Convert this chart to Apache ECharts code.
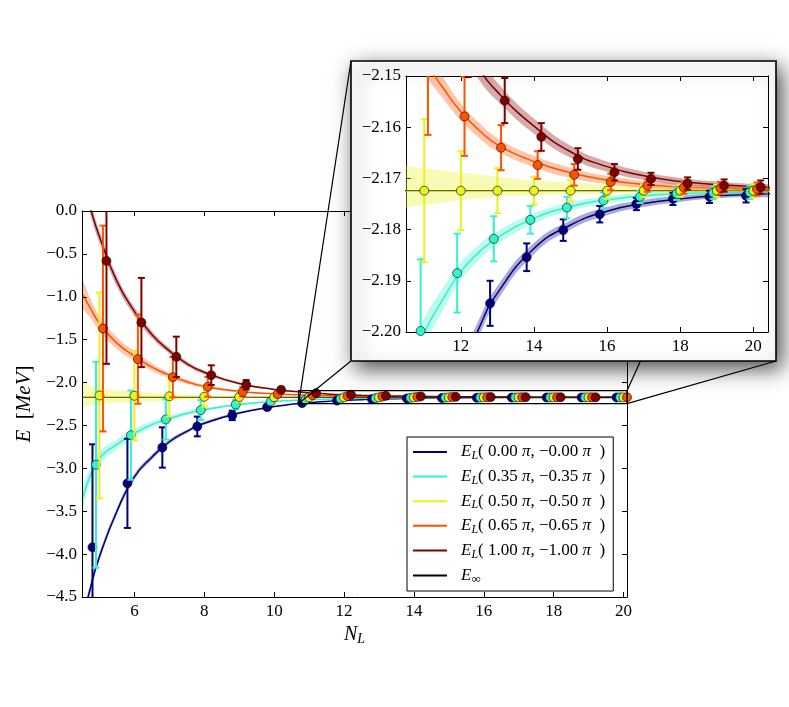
<!DOCTYPE html>
<html>
<head>
<meta charset="utf-8">
<script src="https://cdn.jsdelivr.net/npm/echarts@6/dist/echarts.min.js"></script>
<style>html,body{margin:0;padding:0;background:#fff}#c{width:789px;height:707px}</style>
</head>
<body>
<div id="c"></div>
<script>
// ---------------- data ----------------
const twist = ['0.00', '0.35', '0.50', '0.65', '1.00'];
const colors = ['#00007f', '#33f2cc', '#e8f21c', '#ff5200', '#800000'];
const xOffsets = [-0.2, -0.1, 0, 0.1, 0.2];
const NL = [5, 6, 7, 8, 9, 10, 11, 12, 13, 14, 15, 16, 17, 18, 19, 20];
const Einf = -2.1724;

const ptsBlue   = [-3.92, -3.175, -2.757, -2.512, -2.383, -2.287, -2.240, -2.210, -2.1944, -2.1854, -2.1801, -2.1770, -2.1750, -2.1740, -2.1736, -2.1734];
const ptsCyan   = [-2.958, -2.613, -2.430, -2.321, -2.256, -2.222, -2.1998, -2.1885, -2.1818, -2.1781, -2.1757, -2.1743, -2.1736, -2.1730, -2.1728, -2.1727];
const ptsYellow = [-2.150, -2.154, -2.160, -2.166, -2.169, -2.171, -2.1724, -2.1724, -2.1724, -2.1724, -2.1724, -2.1724, -2.1724, -2.1724, -2.1724, -2.1724];
const ptsOrange = [-1.370, -1.727, -1.937, -2.050, -2.108, -2.135, -2.1475, -2.1579, -2.1640, -2.1674, -2.1693, -2.1707, -2.1714, -2.1718, -2.1719, -2.1721];
const ptsRed    = [-0.582, -1.300, -1.700, -1.914, -2.026, -2.085, -2.124, -2.1425, -2.1548, -2.1619, -2.1662, -2.1688, -2.1701, -2.1710, -2.1714, -2.1717];
const errs      = [1.2, 0.52, 0.235, 0.115, 0.055, 0.027, 0.014, 0.0077, 0.0044, 0.0027, 0.0021, 0.0016, 0.0012, 0.0012, 0.0012, 0.0013];

const fitN = [4.5, 4.75, 5, 5.5, 6, 6.5, 7, 7.5, 8, 9, 10, 10.5, 11, 11.5, 12, 12.5, 13, 14, 15, 16, 17, 18, 19, 20, 20.5];
const fitBlue   = [-4.82, -4.38, -4.03, -3.50, -3.10, -2.87, -2.69, -2.57, -2.475, -2.355, -2.280, -2.254, -2.235, -2.2199, -2.2084, -2.1992, -2.1924, -2.1837, -2.1791, -2.1764, -2.1749, -2.1740, -2.1734, -2.1731, -2.1730];
const fitCyan   = [-3.37, -3.07, -2.88, -2.72, -2.59, -2.49, -2.42, -2.36, -2.317, -2.255, -2.220, -2.2087, -2.2001, -2.1937, -2.1882, -2.1844, -2.1816, -2.1778, -2.1755, -2.1742, -2.1734, -2.1730, -2.1727, -2.1726, -2.1725];
const fitYellow = [-2.168, -2.169, -2.170, -2.171, -2.1715, -2.172, -2.1722, -2.1723, -2.1724, -2.1724, -2.1724, -2.1724, -2.1724, -2.1724, -2.1724, -2.1724, -2.1724, -2.1724, -2.1724, -2.1724, -2.1724, -2.1724, -2.1724, -2.1724, -2.1724];
const fitOrange = [-0.96, -1.14, -1.31, -1.54, -1.69, -1.82, -1.915, -1.99, -2.045, -2.103, -2.132, -2.1404, -2.147, -2.1522, -2.157, -2.1606, -2.1634, -2.1667, -2.1689, -2.1703, -2.1712, -2.1717, -2.1719, -2.1721, -2.1722];
const fitRed    = [0.40, 0.02, -0.30, -0.82, -1.17, -1.44, -1.63, -1.78, -1.88, -2.01, -2.08, -2.1026, -2.119, -2.132, -2.1418, -2.1485, -2.1531, -2.1598, -2.1648, -2.1677, -2.1695, -2.1706, -2.1712, -2.1716, -2.1718];

const bandBlue   = [0.06, 0.05, 0.042, 0.037, 0.033, 0.029, 0.025, 0.02, 0.017, 0.011, 0.0065, 0.0048, 0.0036, 0.0028, 0.0022, 0.0017, 0.0014, 0.0011, 0.0009, 0.0008, 0.0007, 0.0006, 0.0005, 0.0005, 0.0005];
const bandCyan   = [0.11, 0.09, 0.075, 0.06, 0.05, 0.04, 0.032, 0.025, 0.019, 0.011, 0.006, 0.0042, 0.0029, 0.0022, 0.0018, 0.0015, 0.0013, 0.001, 0.0008, 0.0007, 0.0006, 0.0005, 0.0005, 0.0005, 0.0005];
const bandYellowUp   = [0.164, 0.13, 0.105, 0.08, 0.066, 0.05, 0.038, 0.029, 0.022, 0.013, 0.0075, 0.005, 0.0044, 0.0039, 0.0035, 0.0031, 0.0027, 0.002, 0.0016, 0.0012, 0.001, 0.0008, 0.0007, 0.0006, 0.0006];
const bandYellowDown = [0.109, 0.09, 0.078, 0.066, 0.058, 0.045, 0.034, 0.026, 0.02, 0.011, 0.0055, 0.0034, 0.0028, 0.0023, 0.0018, 0.0015, 0.0012, 0.0009, 0.0007, 0.0006, 0.0005, 0.0004, 0.0004, 0.0003, 0.0003];
const bandOrange = [0.14, 0.11, 0.085, 0.068, 0.055, 0.043, 0.033, 0.025, 0.018, 0.009, 0.0045, 0.0035, 0.0026, 0.0021, 0.0017, 0.0015, 0.0013, 0.0011, 0.001, 0.0008, 0.0007, 0.0006, 0.0005, 0.0005, 0.0005];
const bandRed    = [0.09, 0.08, 0.07, 0.06, 0.05, 0.042, 0.035, 0.028, 0.022, 0.013, 0.0075, 0.0058, 0.0045, 0.0036, 0.003, 0.0023, 0.0018, 0.0015, 0.0012, 0.001, 0.0008, 0.0007, 0.0006, 0.0005, 0.0005];

const xTicksMain  = [6, 8, 10, 12, 14, 16, 18, 20];
const yTicksMain  = [-4.5, -4.0, -3.5, -3.0, -2.5, -2.0, -1.5, -1.0, -0.5, 0.0];
const xTicksInset = [12, 14, 16, 18, 20];
const yTicksInset = [-2.20, -2.19, -2.18, -2.17, -2.16, -2.15];

// ---------------- assembly ----------------
const pts = [ptsBlue, ptsCyan, ptsYellow, ptsOrange, ptsRed];
const fits = [fitBlue, fitCyan, fitYellow, fitOrange, fitRed];
const bandUp = [bandBlue, bandCyan, bandYellowUp, bandOrange, bandRed];
const bandDn = [bandBlue, bandCyan, bandYellowDown, bandOrange, bandRed];
const names = twist.map(t => 'E_L( ' + t + ' π, −' + t + ' π )');
const infName = 'E_inf';

const FONT = "'Liberation Serif','DejaVu Serif',serif";
const minus = v => (v < 0 ? '\u2212' : '') + Math.abs(v);
const fmt1 = v => (v < 0 ? '\u2212' : '') + Math.abs(v).toFixed(1);
const fmt2 = v => (v < 0 ? '\u2212' : '') + Math.abs(v).toFixed(2);

const chart = echarts.init(document.getElementById('c'), null, {renderer: 'canvas'});

function xAxis(gridIndex, position, min, max, ticks, labels, z) {
  return {
    type: 'value', gridIndex, position, min, max, z,
    axisLine: {show: true, onZero: false, lineStyle: {color: '#000', width: 1}},
    axisTick: {show: true, inside: true, length: 5, customValues: ticks, lineStyle: {color: '#000', width: 1}},
    axisLabel: {show: labels, customValues: ticks, margin: 6, color: '#000', fontFamily: FONT, fontSize: 17,
      formatter: v => minus(v)},
    splitLine: {show: false}
  };
}
function yAxis(gridIndex, position, min, max, ticks, labels, z, f) {
  return {
    type: 'value', gridIndex, position, min, max, z,
    axisLine: {show: true, onZero: false, lineStyle: {color: '#000', width: 1}},
    axisTick: {show: true, inside: true, length: 5, customValues: ticks, lineStyle: {color: '#000', width: 1}},
    axisLabel: {show: labels, customValues: ticks, margin: 5, color: '#000', fontFamily: FONT, fontSize: 17, formatter: f},
    splitLine: {show: false}
  };
}

const xAxes = [
  xAxis(0, 'bottom', 4.5, 20.1, xTicksMain, true, 14),
  xAxis(0, 'top', 4.5, 20.1, xTicksMain, false, 14),
  xAxis(1, 'bottom', 10.5, 20.4, xTicksInset, true, 30),
  xAxis(1, 'top', 10.5, 20.4, xTicksInset, false, 30)
];
const yAxes = [
  yAxis(0, 'left', -4.5, 0, yTicksMain, true, 14, fmt1),
  yAxis(0, 'right', -4.5, 0, yTicksMain, false, 14, fmt1),
  yAxis(1, 'left', -2.20, -2.15, yTicksInset, true, 30, fmt2),
  yAxis(1, 'right', -2.20, -2.15, yTicksInset, false, 30, fmt2)
];
xAxes[0].name = '{i|N}{s|L}';
xAxes[0].nameLocation = 'middle';
xAxes[0].nameGap = 13;
xAxes[0].nameTextStyle = {color: '#000', rich: {
  i: {fontFamily: FONT, fontStyle: 'italic', fontSize: 20, color: '#000'},
  s: {fontFamily: FONT, fontStyle: 'italic', fontSize: 14, color: '#000', padding: [9, 0, 0, 0]}}};
yAxes[0].name = '{i|E}{n|  [}{i|MeV}{n|]}';
yAxes[0].nameLocation = 'middle';
yAxes[0].nameGap = 46;
yAxes[0].nameRotate = 90;
yAxes[0].nameTextStyle = {color: '#000', rich: {
  i: {fontFamily: FONT, fontStyle: 'italic', fontSize: 21, color: '#000'},
  n: {fontFamily: FONT, fontSize: 21, color: '#000'}}};

function buildSeries(g) {
  const xi = g * 2, yi = g * 2;
  const zb = g === 0 ? 2 : 32;
  const out = [];
  fits.forEach((f, s) => {
    out.push({
      type: 'line', name: names[s], xAxisIndex: xi, yAxisIndex: yi, z: zb,
      data: fitN.map((x, i) => [x, f[i]]), smooth: 0.5,
      showSymbol: false, symbol: 'none', clip: true, silent: true,
      lineStyle: {color: colors[s], width: 1.5}, itemStyle: {color: colors[s]}
    });
  });
  out.push({
    type: 'line', name: infName, xAxisIndex: xi, yAxisIndex: yi, z: zb,
    data: [[fitN[0], Einf], [fitN[fitN.length - 1], Einf]], symbol: 'none', clip: true, silent: true,
    lineStyle: {color: '#000', width: 1}, itemStyle: {color: '#000'}
  });
  fits.forEach((f, s) => {
    const up = bandUp[s], dn = bandDn[s];
    out.push({
      type: 'custom', xAxisIndex: xi, yAxisIndex: yi, z: zb + 1, clip: true, silent: true,
      data: fitN.map((x, i) => [x, f[i] - dn[i], f[i] + up[i]]),
      encode: {x: 0, y: [1, 2]},
      renderItem: (params, api) => {
        if (params.dataIndex !== 0) return null;
        const top = [], bot = [];
        for (let i = 0; i < fitN.length; i++) {
          top.push(api.coord([fitN[i], f[i] + up[i]]));
          bot.push(api.coord([fitN[i], f[i] - dn[i]]));
        }
        return {type: 'polygon', shape: {points: top.concat(bot.reverse()), smooth: 0.5},
          style: {fill: colors[s], opacity: 0.33}};
      }
    });
  });
  pts.forEach((p, s) => {
    const col = colors[s];
    out.push({
      type: 'custom', xAxisIndex: xi, yAxisIndex: yi, z: zb + 2 + s * 2, clip: true, silent: true,
      data: NL.map((n, i) => [n + xOffsets[s], p[i] - errs[i], p[i] + errs[i]]),
      encode: {x: 0, y: [1, 2]},
      renderItem: (params, api) => {
        const x = api.value(0);
        const a = api.coord([x, api.value(1)]);
        const b = api.coord([x, api.value(2)]);
        const w = 3.5;
        const st = {stroke: col, lineWidth: 2};
        return {type: 'group', children: [
          {type: 'line', shape: {x1: a[0], y1: a[1], x2: b[0], y2: b[1]}, style: st},
          {type: 'line', shape: {x1: a[0] - w, y1: a[1], x2: a[0] + w, y2: a[1]}, style: st},
          {type: 'line', shape: {x1: b[0] - w, y1: b[1], x2: b[0] + w, y2: b[1]}, style: st}
        ]};
      }
    });
    out.push({
      type: 'scatter', xAxisIndex: xi, yAxisIndex: yi, z: zb + 3 + s * 2, clip: true, silent: true,
      data: NL.map((n, i) => [n + xOffsets[s], p[i]]), symbol: 'circle', symbolSize: 9,
      itemStyle: {color: col, borderColor: '#000', borderWidth: 0.6, opacity: 1}
    });
  });
  return out;
}

const richLegend = {
  g: {width: 9, fontSize: 17, fontFamily: FONT},
  e: {fontFamily: FONT, fontStyle: 'italic', fontSize: 17, color: '#000', lineHeight: 18},
  s: {fontFamily: FONT, fontStyle: 'italic', fontSize: 12, color: '#000', padding: [8, 0, 0, 0], lineHeight: 18},
  u: {fontFamily: FONT, fontSize: 13, color: '#000', padding: [8, 0, 0, 0], lineHeight: 18},
  n: {fontFamily: FONT, fontSize: 17, color: '#000', lineHeight: 18}
};
function legendText(name) {
  if (name === infName) return '{g| }{e|E}{u|∞}';
  const t = twist[names.indexOf(name)];
  return '{g| }{e|E}{s|L}{n|( ' + t + ' }{e|π}{n|, −' + t + ' }{e|π}{n|  )}';
}

const option = {
  animation: false,
  backgroundColor: '#fff',
  grid: [
    {left: 82, top: 211, width: 545, height: 386, containLabel: false},
    {left: 406, top: 76, width: 362, height: 256, containLabel: false}
  ],
  xAxis: xAxes,
  yAxis: yAxes,
  legend: {
    show: true, orient: 'vertical', left: 407, top: 437, z: 16,
    data: names.concat([infName]).map(n => ({name: n, icon: 'rect'})),
    itemWidth: 34, itemHeight: 2, itemGap: 4.6, selectedMode: false,
    padding: [5, 8, 5, 6], borderColor: '#000', borderWidth: 1, backgroundColor: '#fff', borderRadius: 0,
    formatter: legendText,
    textStyle: {fontFamily: FONT, fontSize: 17, color: '#000', rich: richLegend}
  },
  series: buildSeries(0).concat(buildSeries(1))
};
chart.setOption(option);

const zoomBoxX = [10.7, 20.1];
const zoomBoxY = [-2.245, -2.095];
function addDecor() {
  const P = v => chart.convertToPixel({xAxisIndex: 0, yAxisIndex: 0}, v);
  const tl = P([zoomBoxX[0], zoomBoxY[1]]);
  const br = P([zoomBoxX[1], zoomBoxY[0]]);
  const bx0 = 351, by0 = 61, bx1 = 776, by1 = 361;
  const ln = (x1, y1, x2, y2) => ({type: 'line', z: 15, silent: true,
    shape: {x1, y1, x2, y2}, style: {stroke: '#000', lineWidth: 1.2}});
  chart.setOption({graphic: [
    {type: 'rect', z: 15, silent: true, shape: {x: tl[0], y: tl[1], width: br[0] - tl[0], height: br[1] - tl[1]},
      style: {fill: 'none', stroke: '#000', lineWidth: 1.3}},
    ln(tl[0], br[1], bx0, by0),
    ln(tl[0], br[1], bx0, by1),
    ln(br[0], br[1], bx1, by1),
    ln(br[0], tl[1], bx1, by0),
    {type: 'rect', z: 20, silent: true, shape: {x: bx0, y: by0, width: bx1 - bx0, height: by1 - by0},
      style: {fill: '#fff', stroke: '#000', lineWidth: 1.6, shadowBlur: 20, shadowOffsetX: 5, shadowOffsetY: 7,
        shadowColor: 'rgba(0,0,0,0.7)'}}
  ]});
}
addDecor();
</script>
</body>
</html>
